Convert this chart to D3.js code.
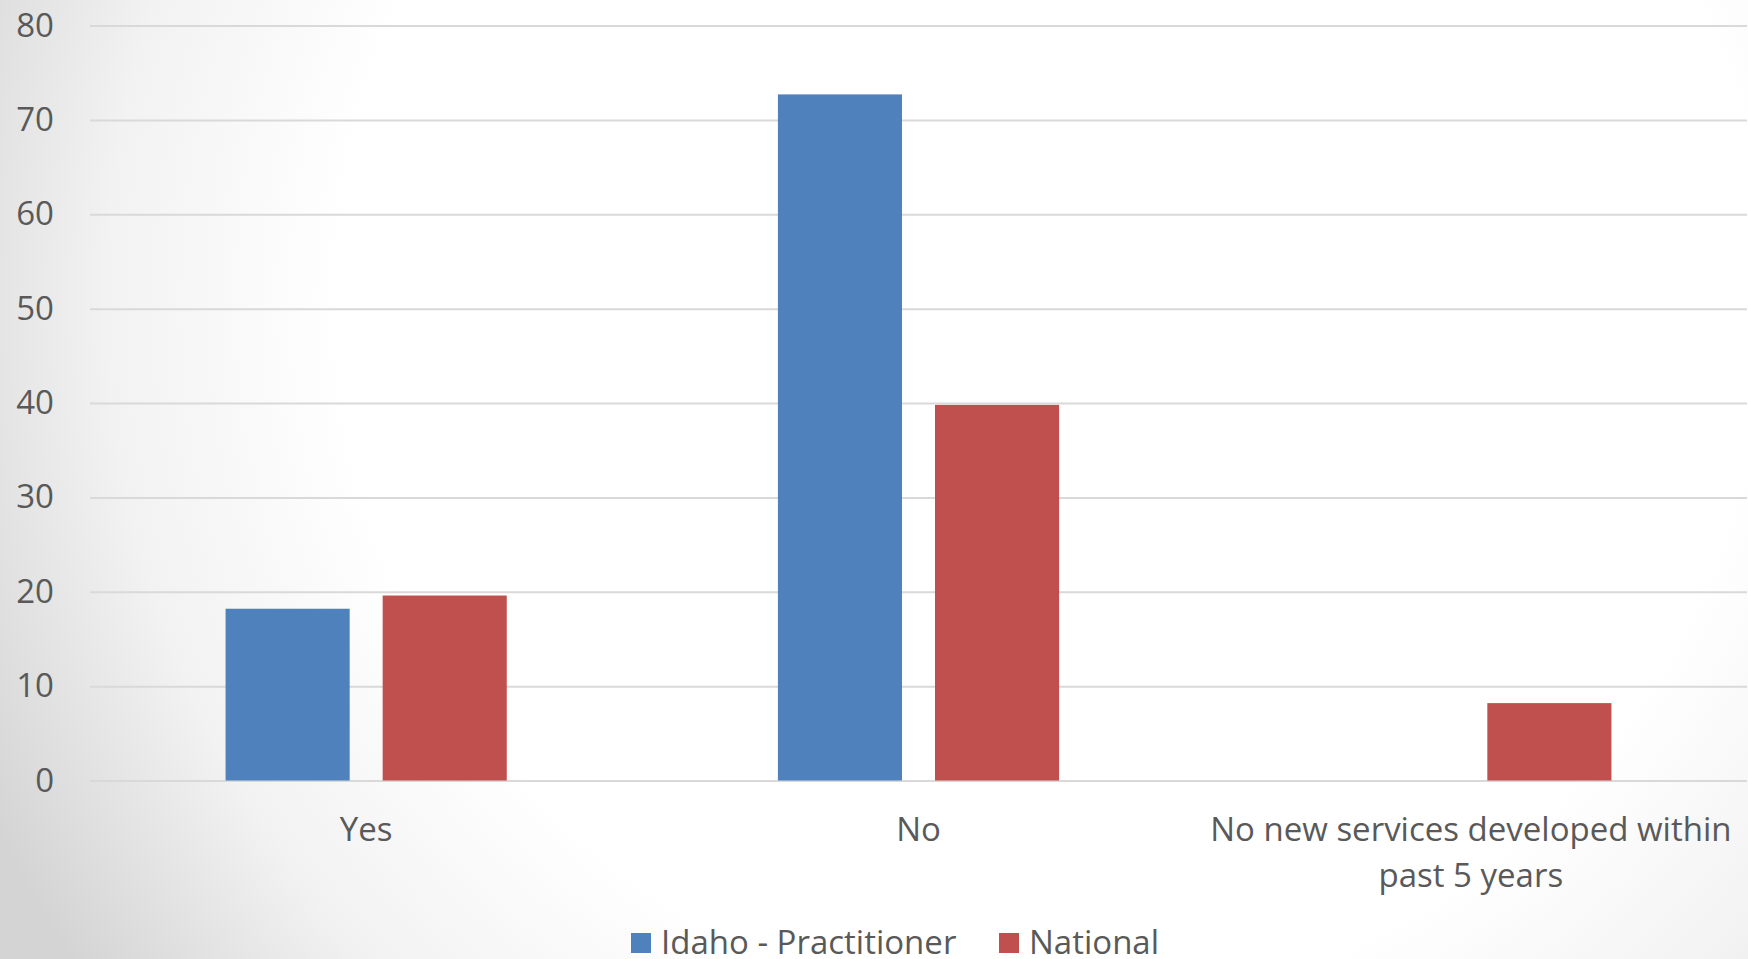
<!DOCTYPE html>
<html>
<head>
<meta charset="utf-8">
<script src="https://cdn.jsdelivr.net/npm/d3@7"></script>
<style>
  html, body { margin: 0; padding: 0; overflow: hidden; background: #fff; }
  svg { display: block; }
  text { font-family: "Open Sans", sans-serif; fill: #595959; }
</style>
</head>
<body>
<svg id="chart" width="1748" height="959"></svg>
<script>
const categories = ["Yes", "No", "No new services developed within past 5 years"];
const categoryLines = [["Yes"], ["No"], ["No new services developed within", "past 5 years"]];
const seriesNames = ["Idaho - Practitioner", "National"];
const idahoValues = [18.2, 72.7, 0];
const nationalValues = [19.6, 39.8, 8.2];
const yTicks = [0, 10, 20, 30, 40, 50, 60, 70, 80];
const seriesColors = ["#4f81bd", "#c0504d"];

(function () {
const W = 1748, H = 959;
const svg = d3.select("#chart");

// background gradient
const defs = svg.append("defs");
const rg = defs.append("radialGradient").attr("id", "bg")
  .attr("gradientUnits", "userSpaceOnUse")
  .attr("cx", 1050).attr("cy", 300).attr("r", 1180);
rg.append("stop").attr("offset", "0.6").attr("stop-color", "#ffffff");
rg.append("stop").attr("offset", "0.8").attr("stop-color", "#f2f2f2");
rg.append("stop").attr("offset", "1").attr("stop-color", "#d4d4d4");
svg.append("rect").attr("width", W).attr("height", H).attr("fill", "url(#bg)");

const mLeft = 90, mRight = 1747, mTop = 25.5, mBottom = 780.5;
const y = d3.scaleLinear().domain([0, 80]).range([mBottom, mTop]);
const x0 = d3.scaleBand().domain(categories).range([mLeft, mRight]).paddingInner(0).paddingOuter(0);
const x1 = d3.scaleBand().domain(seriesNames).range([0, x0.bandwidth()]).paddingInner(0.21).paddingOuter(0.863);

// gridlines
const yAxis = d3.axisLeft(y).tickValues(yTicks).tickSize(-(mRight - mLeft)).tickPadding(36).tickFormat(d3.format("d"));
const gy = svg.append("g").attr("transform", `translate(${mLeft},0)`).call(yAxis);
gy.select(".domain").remove();
gy.selectAll(".tick line").attr("stroke", "#d9d9d9").attr("stroke-width", 2);
gy.selectAll(".tick text").attr("font-size", 33).attr("fill", "#595959")
  .style("font-family", "'Open Sans', sans-serif");

// bars
const seriesData = [idahoValues, nationalValues];
const groups = svg.append("g");
categories.forEach((c, i) => {
  seriesNames.forEach((s, j) => {
    const v = seriesData[j][i];
    if (v <= 0) return;
    groups.append("rect")
      .attr("x", x0(c) + x1(s))
      .attr("y", y(v))
      .attr("width", x1.bandwidth())
      .attr("height", y(0) - y(v))
      .attr("fill", seriesColors[j]);
  });
});

// x labels
categories.forEach((c, i) => {
  const t = svg.append("text")
    .attr("x", x0(c) + x0.bandwidth() / 2)
    .attr("y", 841)
    .attr("text-anchor", "middle")
    .attr("font-size", 33);
  categoryLines[i].forEach((ln, k) => {
    t.append("tspan").attr("x", x0(c) + x0.bandwidth() / 2).attr("dy", k === 0 ? 0 : 46).text(ln);
  });
});

// legend
const legendItems = [
  { name: seriesNames[0], color: seriesColors[0], x: 631 },
  { name: seriesNames[1], color: seriesColors[1], x: 999 }
];
legendItems.forEach(d => {
  svg.append("rect").attr("x", d.x).attr("y", 933).attr("width", 20).attr("height", 20).attr("fill", d.color);
  svg.append("text").attr("x", d.x + 30).attr("y", 954).attr("font-size", 33).text(d.name);
});
})();
</script>
</body>
</html>
